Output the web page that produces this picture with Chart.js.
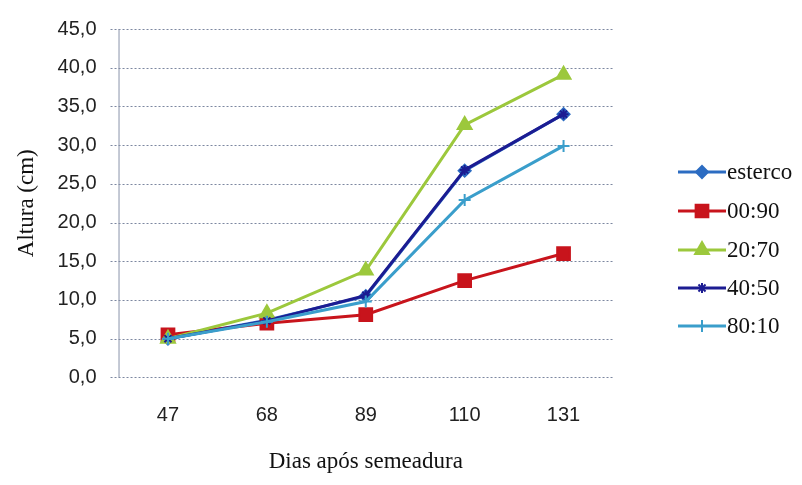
<!DOCTYPE html>
<html>
<head>
<meta charset="utf-8">
<script src="https://cdn.jsdelivr.net/npm/chart.js@4"></script>
<style>
  html, body { margin: 0; padding: 0; background: #fff; }
  #wrap { width: 802px; height: 485px; }
</style>
</head>
<body>
<div id="wrap"><canvas id="chart" width="802" height="485"></canvas></div>
<script>
// days after sowing
const dias = ['47', '68', '89', '110', '131'];

const esterco = [5.0, 7.4, 10.5, 26.7, 34.0];
const t0090 = [5.5, 7.0, 8.1, 12.5, 16.0];
const t2070 = [5.0, 8.3, 13.8, 32.6, 39.1];
const t4050 = [5.0, 7.3, 10.6, 26.8, 34.0];
const t8010 = [5.0, 7.2, 9.8, 22.9, 29.9];

const yTicks = [0, 5, 10, 15, 20, 25, 30, 35, 40, 45];

const series = [
    { label: 'esterco', data: esterco, color: '#2c6cc2', style: 'rectRot', r: 6 },
    { label: '00:90', data: t0090, color: '#c8141c', style: 'rect', r: 9 },
    { label: '20:70', data: t2070, color: '#9cc83c', style: 'triangle', r: 8 },
    { label: '40:50', data: t4050, color: '#1c1c92', style: 'star', r: 5 },
    { label: '80:10', data: t8010, color: '#3a9ecb', style: 'cross', r: 6 }
];

// legend drawn by hand: line with marker in the middle, serif text
const sideLegend = {
    id: 'sideLegend',
    afterDraw(chart) {
        const ctx = chart.ctx;
        const x0 = 678, x1 = 726;
        const ys = [172, 211, 250, 288, 326];
        ctx.save();
        series.forEach((s, i) => {
            const y = ys[i];
            ctx.strokeStyle = s.color;
            ctx.lineWidth = 3;
            ctx.beginPath();
            ctx.moveTo(x0, y);
            ctx.lineTo(x1, y);
            ctx.stroke();
            ctx.fillStyle = s.color;
            ctx.lineWidth = 2;
            Chart.helpers.drawPoint(ctx, { pointStyle: s.style, radius: s.r, borderWidth: 2 }, (x0 + x1) / 2, y);
            ctx.fillStyle = '#111';
            ctx.font = '23px "Liberation Serif"';
            ctx.textBaseline = 'middle';
            ctx.textAlign = 'left';
            ctx.fillText(s.label, x1 + 1, y + 1);
        });
        ctx.restore();
    }
};

const ctx = document.getElementById('chart').getContext('2d');
new Chart(ctx, {
    type: 'line',
    data: {
        labels: dias,
        datasets: series.map((s, i) => ({
            label: s.label,
            data: s.data,
            borderColor: s.color,
            backgroundColor: s.color,
            borderWidth: 3,
            pointStyle: s.style,
            pointRadius: s.r,
            pointBorderWidth: 2,
            tension: 0,
            order: series.length - i
        }))
    },
    options: {
        responsive: false,
        animation: false,
        layout: { padding: { top: 29, right: 189, left: 13, bottom: 9 } },
        plugins: {
            legend: { display: false },
            tooltip: { enabled: false }
        },
        scales: {
            x: {
                offset: true,
                grid: { display: false, drawTicks: false },
                border: { display: false },
                ticks: {
                    color: '#222',
                    font: { family: 'Liberation Sans', size: 20 },
                    padding: 26
                },
                title: {
                    display: true,
                    text: 'Dias após semeadura',
                    color: '#111',
                    font: { family: 'Liberation Serif', size: 23 },
                    padding: { top: -5, bottom: 0 }
                }
            },
            y: {
                min: 0,
                max: 45,
                afterBuildTicks(axis) { axis.ticks = yTicks.map(v => ({ value: v })); },
                grid: {
                    color: 'rgba(0,0,0,0)',
                    tickLength: 8
                },
                border: { display: false },
                ticks: {
                    color: '#222',
                    font: { family: 'Liberation Sans', size: 20 },
                    padding: 14,
                    callback: v => v.toFixed(1).replace('.', ',')
                },
                title: {
                    display: true,
                    text: 'Altura (cm)',
                    color: '#111',
                    font: { family: 'Liberation Serif', size: 23 },
                    padding: { top: 0, bottom: 3 }
                }
            }
        }
    },
    plugins: [
        {
            id: 'dottedGrid',
            beforeDatasetsDraw(chart) {
                // dotted horizontal lines like the original
                const { ctx, chartArea, scales } = chart;
                ctx.save();
                ctx.strokeStyle = '#7c87a0';
                ctx.lineWidth = 1;
                ctx.setLineDash([2, 2]);
                yTicks.forEach(v => {
                    const y = Math.round(scales.y.getPixelForValue(v)) + 0.5;
                    ctx.beginPath();
                    ctx.moveTo(chartArea.left - 8, y);
                    ctx.lineTo(chartArea.right, y);
                    ctx.stroke();
                });
                ctx.setLineDash([]);
                ctx.strokeStyle = '#8a94aa';
                ctx.beginPath();
                ctx.moveTo(chartArea.left + 0.5, chartArea.top);
                ctx.lineTo(chartArea.left + 0.5, chartArea.bottom);
                ctx.stroke();
                ctx.restore();
            }
        },
        sideLegend
    ]
});
</script>
</body>
</html>
